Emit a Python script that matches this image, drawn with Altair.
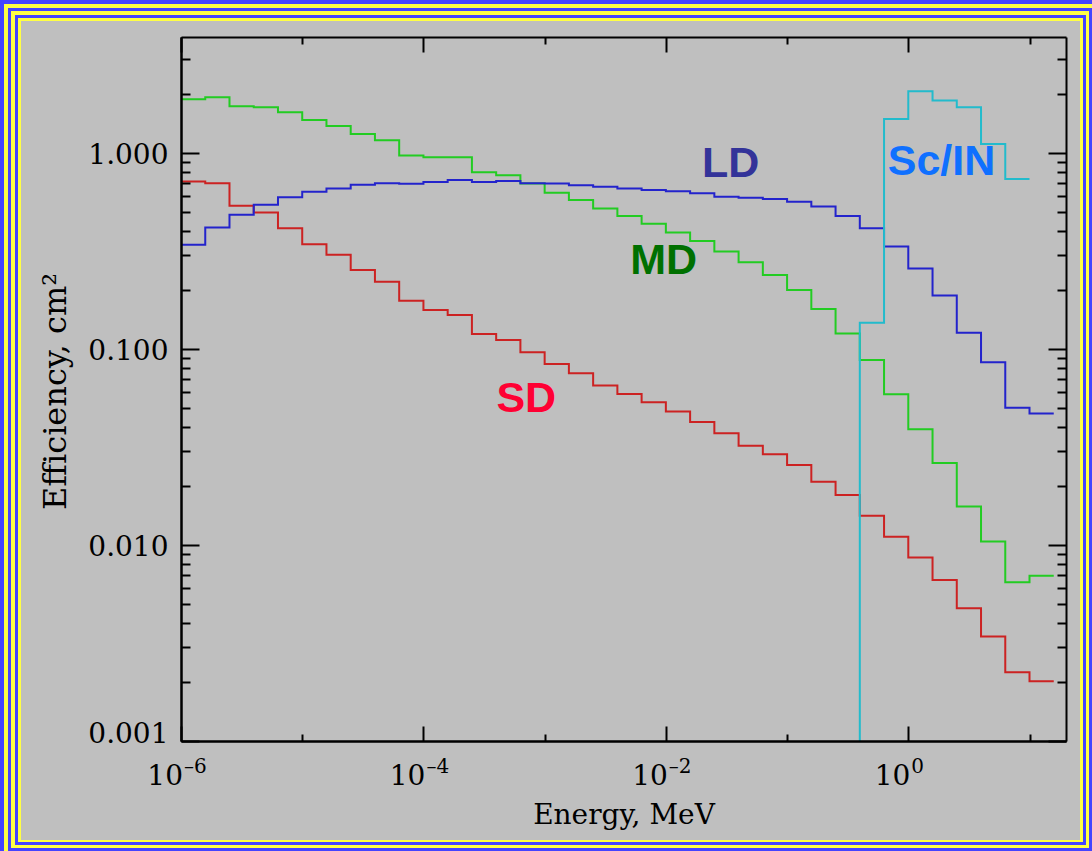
import altair as alt
import numpy as np
import pandas as pd

# ---------------------------------------------------------------------------
# Detector efficiency histograms, five bins per decade of energy (MeV)
# ---------------------------------------------------------------------------
bin_edges_log10 = np.round(np.arange(-6.0, 1.2001, 0.2), 1)

# small detector
sd_values = [0.715, 0.700, 0.537, 0.496, 0.413, 0.342, 0.302, 0.253, 0.220,
             0.176, 0.158, 0.149, 0.119, 0.111, 0.0962, 0.0838, 0.0751,
             0.0650, 0.0589, 0.0534, 0.0479, 0.0424, 0.0371, 0.0321, 0.0290,
             0.0256, 0.0210, 0.0180, 0.0141, 0.0110, 0.00864, 0.00662,
             0.00475, 0.00341, 0.00224, 0.00202]
sd_underflow = 0.849

# medium detector
md_values = [1.88, 1.92, 1.73, 1.71, 1.61, 1.47, 1.37, 1.25, 1.16, 0.97,
             0.95, 0.95, 0.797, 0.77, 0.697, 0.626, 0.575, 0.521, 0.477,
             0.435, 0.393, 0.355, 0.314, 0.277, 0.238, 0.200, 0.160, 0.120,
             0.0879, 0.0588, 0.0389, 0.0262, 0.0157, 0.0104, 0.00645,
             0.00697]

# large detector
ld_values = [0.340, 0.416, 0.483, 0.543, 0.594, 0.633, 0.658, 0.687, 0.700,
             0.695, 0.711, 0.728, 0.711, 0.719, 0.700, 0.697, 0.683, 0.672,
             0.658, 0.647, 0.637, 0.622, 0.598, 0.591, 0.582, 0.564, 0.532,
             0.477, 0.413, 0.333, 0.257, 0.187, 0.121, 0.0855, 0.0501,
             0.0469]
ld_underflow = 0.263

# scintillator / inelastic channel, starting at 10^-0.4 MeV
scin_values = [0.136, 1.49, 2.06, 1.85, 1.71, 1.11, 0.736]
scin_first_bin = 28
scin_underflow = 1e-5

series_names = ["SD", "MD", "LD", "Sc/IN"]
series_colors = ["#cc2222", "#22cc22", "#2323cc", "#22bbcc"]

label_text = ["LD", "MD", "SD", "Sc/IN"]
label_energy = [0.0342, 0.0096, 7.05e-4, 1.88]
label_eff = [0.879, 0.281, 0.0557, 0.90]
label_colors = ["#333399", "#007000", "#ff0033", "#0f70ff"]

# x tick labels: powers of ten written as base + exponent
x_label_values = [1e-6, 1e-4, 1e-2, 1.0]
x_label_base = ["10", "10", "10", "10"]
x_label_exponent = ["–6", "–4", "–2", "0"]
x_tick_values = [1e-6, 1e-5, 1e-4, 1e-3, 1e-2, 1e-1, 1.0, 10.0]
y_label_values = [0.001, 0.01, 0.1, 1.0]
y_tick_values = [m * 10.0 ** e for e in (-3, -2, -1, 0) for m in range(1, 10)
                 if m * 10.0 ** e <= 3.9]

X_DOMAIN = [1e-6, 20.0]
Y_DOMAIN = [0.001, 3.9]

W, H = 885, 704
PAD_L, PAD_T, PAD_R, PAD_B = 181, 37, 26, 110


def steps(name, values, first=0, under=None):
    edges = 10.0 ** bin_edges_log10[first:first + len(values) + 1]
    xs, ys = [], []
    if under is not None:
        xs.append(edges[0])
        ys.append(under)
    xs += list(edges[:-1])
    ys += list(values)
    xs.append(edges[-1])
    ys.append(values[-1])
    return pd.DataFrame({"series": name, "energy": xs, "eff": ys,
                         "idx": range(len(xs))})


lines_df = pd.concat([
    steps("SD", sd_values, under=sd_underflow),
    steps("MD", md_values),
    steps("LD", ld_values, under=ld_underflow),
    steps("Sc/IN", scin_values, first=scin_first_bin, under=scin_underflow),
], ignore_index=True)

labels_df = pd.DataFrame({"name": label_text, "energy": label_energy,
                          "eff": label_eff})
xlab_df = pd.DataFrame({"energy": x_label_values, "base": x_label_base,
                        "exponent": x_label_exponent})

x_scale = alt.Scale(type="log", domain=X_DOMAIN, nice=False)
y_scale = alt.Scale(type="log", domain=Y_DOMAIN, nice=False)

SERIF = "DejaVu Serif"

x_major = "abs(round(log(datum.value) / LN10)) % 2 == 0"
y_major = "abs(log(datum.value) / LN10 - round(log(datum.value) / LN10)) < 0.001"

# Axes carrying titles and the frame lines
x_axis_main = alt.Axis(orient="bottom", values=x_label_values, labels=False,
                       ticks=False, tickSize=0,
                       domain=True, domainColor="black", domainWidth=2,
                       grid=False,
                       title="Energy, MeV", titleFont=SERIF, titleFontSize=28,
                       titleFontWeight="normal", titleColor="black",
                       titleBaseline="alphabetic", titleY=82, titleX=W / 2,
                       zindex=1)
y_axis_main = alt.Axis(orient="left", values=y_label_values, format=".3f",
                       ticks=False, tickSize=0, domain=True,
                       domainColor="black", domainWidth=2, grid=False,
                       labelFont=SERIF, labelFontSize=28, labelColor="black",
                       labelPadding=13, labelOverlap=False,
                       labelOffset={"condition": {"test": "datum.value < 0.002",
                                                  "value": -7},
                                    "value": 3},
                       title="Efficiency, cm²", titleFont=SERIF,
                       titleFontSize=32, titleFontWeight="normal",
                       titleColor="black", titleAngle=270,
                       titleBaseline="alphabetic", titleAlign="center",
                       titleX=-116, titleY=H / 2 + 2, zindex=1)


def tick_axis(orient, offset, values, test, major, minor):
    return alt.Axis(orient=orient, offset=offset, values=values, labels=False,
                    domain=True, domainColor="black", domainWidth=2,
                    grid=False, ticks=True, tickColor="black", tickWidth=2,
                    tickSize={"condition": {"test": test, "value": major},
                              "value": minor},
                    title=None, zindex=1)


# Inward ticks along the bottom/left edges and along the top/right edges
x_ticks_bottom = tick_axis("top", -H, x_tick_values, x_major, 15, 7)
y_ticks_left = tick_axis("right", -W, y_tick_values, y_major, 18, 9)
x_ticks_top = tick_axis("bottom", -H, x_tick_values, x_major, 15, 7)
y_ticks_right = tick_axis("left", -W, y_tick_values, y_major, 18, 9)

# Decorative striped border around the whole figure
BLUE, YELLOW, GRAY = "#4444ff", "#ffff44", "#bfbfbf"
frame_bands = [
    (BLUE, 0, 0, 1092, 851),
    (YELLOW, 4, 4, 1092, 851),
    (BLUE, 8, 8, 1092, 851),
    (YELLOW, 11, 11, 1089, 848),
    (BLUE, 15, 15, 1086, 845),
    (YELLOW, 18, 18, 1083, 842),
    (GRAY, 21, 21, 1080, 840),
]
one_row = pd.DataFrame({"k": [0]})
frame_layers = [
    alt.Chart(one_row).mark_rect(color=c, strokeWidth=0).encode(
        x=alt.value(l - PAD_L), x2=alt.value(r - PAD_L),
        y=alt.value(t - PAD_T), y2=alt.value(b - PAD_T))
    for c, l, t, r, b in frame_bands
]

lines = alt.Chart(lines_df).mark_line(
    interpolate="step-after", strokeWidth=2, clip=True
).encode(
    x=alt.X("energy:Q", scale=x_scale, axis=x_axis_main),
    y=alt.Y("eff:Q", scale=y_scale, axis=y_axis_main),
    color=alt.Color("series:N", legend=None,
                    scale=alt.Scale(domain=series_names, range=series_colors)),
    order="idx:Q",
)

names = alt.Chart(labels_df).mark_text(
    font="Liberation Sans", fontWeight="bold", fontSize=43,
    align="center", baseline="middle"
).encode(
    x=alt.X("energy:Q", scale=x_scale, axis=x_ticks_bottom),
    y=alt.Y("eff:Q", scale=y_scale, axis=y_ticks_left),
    text="name:N",
    color=alt.Color("name:N", legend=None,
                    scale=alt.Scale(domain=label_text, range=label_colors)),
)

tick_holder = alt.Chart(lines_df).mark_point(opacity=0, size=1).encode(
    x=alt.X("energy:Q", scale=x_scale, axis=x_ticks_top),
    y=alt.Y("eff:Q", scale=y_scale, axis=y_ticks_right),
)

# Power-of-ten tick labels under the x axis
xlab_base = alt.Chart(xlab_df).mark_text(
    font=SERIF, fontSize=28, color="black", align="right",
    baseline="alphabetic", dx=2
).encode(
    x=alt.X("energy:Q", scale=x_scale, axis=None),
    y=alt.value(H + 44),
    text="base:N",
)
xlab_exp = alt.Chart(xlab_df).mark_text(
    font=SERIF, fontSize=20, color="black", align="left",
    baseline="alphabetic", dx=3
).encode(
    x=alt.X("energy:Q", scale=x_scale, axis=None),
    y=alt.value(H + 32),
    text="exponent:N",
)

chart = alt.layer(
    *frame_layers, lines, names, tick_holder, xlab_base, xlab_exp
).resolve_axis(
    x="independent", y="independent"
).resolve_scale(
    color="independent"
).properties(
    width=W, height=H,
    padding={"left": PAD_L, "top": PAD_T, "right": PAD_R, "bottom": PAD_B},
    autosize=alt.AutoSizeParams(type="none"),
    background=GRAY,
).configure_view(stroke=None)

chart.save("out.html", embed_options={"renderer": "svg", "actions": False})
